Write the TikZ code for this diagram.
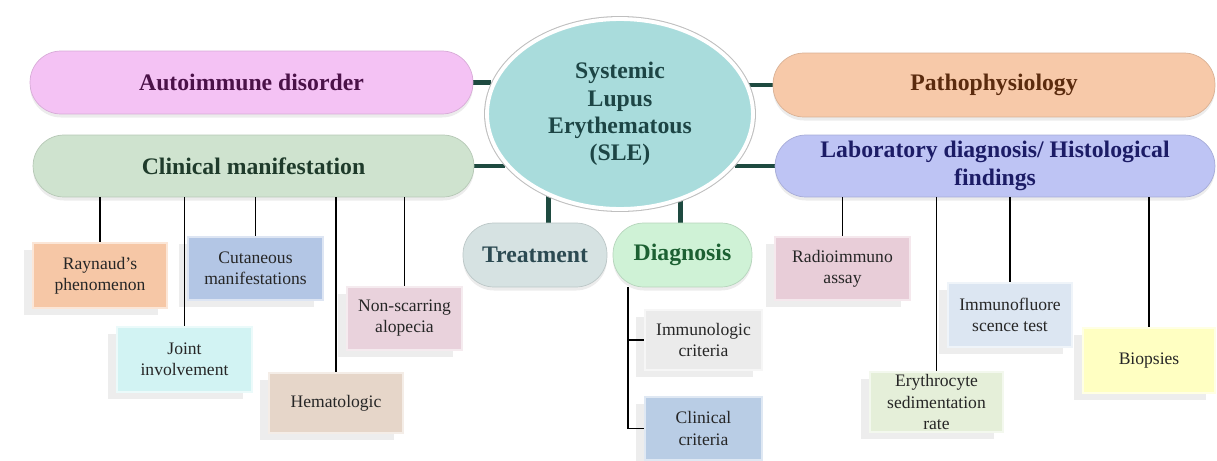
\documentclass[tikz,border=0pt]{standalone}
\usepackage{fontspec}
\setmainfont{Liberation Serif}
\usepackage{xcolor}
\usepackage{tikz}
\usetikzlibrary{shapes.geometric}
\usetikzlibrary{shadows}
\usetikzlibrary{backgrounds}
\definecolor{autofill}{HTML}{F4C2F4}
\definecolor{autotext}{HTML}{4A1248}
\definecolor{clinfill}{HTML}{CFE3CF}
\definecolor{clintext}{HTML}{1F3B2B}
\definecolor{slefill}{HTML}{A9DCDC}
\definecolor{sletext}{HTML}{1D4545}
\definecolor{pathofill}{HTML}{F7C9A9}
\definecolor{pathotext}{HTML}{5B2B0E}
\definecolor{labfill}{HTML}{BEC4F4}
\definecolor{labtext}{HTML}{1C1C66}
\definecolor{treatfill}{HTML}{D6E2E2}
\definecolor{treattext}{HTML}{2C4A52}
\definecolor{diagfill}{HTML}{CFF2D6}
\definecolor{diagtext}{HTML}{1C6032}
\definecolor{hubgreen}{HTML}{1E4A40}
\definecolor{raynaudfill}{HTML}{F6C7A6}
\definecolor{cutanfill}{HTML}{B3C6E5}
\definecolor{jointfill}{HTML}{D2F3F3}
\definecolor{hematofill}{HTML}{E6D6C9}
\definecolor{alopfill}{HTML}{E9D2DC}
\definecolor{immunofill}{HTML}{EBEBEB}
\definecolor{critfill}{HTML}{B9CDE5}
\definecolor{radiofill}{HTML}{E8CDD8}
\definecolor{erythfill}{HTML}{E5EFD9}
\definecolor{fluorfill}{HTML}{DCE6F2}
\definecolor{biopfill}{HTML}{FFFFC2}
\tikzset{
	pill/.style={rectangle, rounded corners=0.62cm, fill=#1, draw=#1!88!black, line width=0.4pt,
		align=center, inner sep=1pt, font=\fontsize{13.5}{15.5}\selectfont\bfseries,
		drop shadow={shadow xshift=0pt, shadow yshift=-2pt, opacity=0.15}},
	leaf/.style={rectangle, fill=#1, draw=white!55!#1, line width=1.2pt, align=center,
		inner sep=1pt, text=black!85, font=\fontsize{10}{12}\selectfont,
		drop shadow={shadow xshift=-5pt, shadow yshift=-4pt, opacity=0.14}},
	hub/.style={line width=2.8pt, color=hubgreen},
	twig/.style={line width=1pt, color=black},
}
\begin{document}
\begin{tikzpicture}[x=0.02cm, y=-0.02cm]
	\useasboundingbox (0,0) rectangle (1217,460);
	% centre and main branches
	\node[ellipse, fill=slefill, draw=white, line width=2.2pt, preaction={draw=black!25, line width=3.4pt},
		minimum width=5.32cm, minimum height=3.8cm, inner sep=0pt, align=center, text=sletext,
		font=\fontsize{13.5}{15.5}\selectfont\bfseries] (sle) at (620,114) {Systemic\\Lupus\\Erythematous\\(SLE)};
	\node[pill=autofill, text=autotext, minimum width=8.86cm, minimum height=1.26cm] (autoimm) at (251.5,82.5) {Autoimmune disorder};
	\node[pill=clinfill, text=clintext, minimum width=8.82cm, minimum height=1.24cm] (clinical) at (253.5,166) {Clinical manifestation};
	\node[pill=pathofill, text=pathotext, minimum width=8.84cm, minimum height=1.28cm] (patho) at (994,85) {Pathophysiology};
	\node[pill=labfill, text=labtext, minimum width=8.8cm, minimum height=1.24cm] (lab) at (995,166) {Laboratory diagnosis/ Histological\\findings};
	\node[pill=treatfill, text=treattext, minimum width=2.88cm, minimum height=1.28cm] (treatment) at (535,255) {Treatment};
	\node[pill=diagfill, text=diagtext, minimum width=2.78cm, minimum height=1.28cm] (diagnosis) at (682.5,255) {Diagnosis};
	% clinical manifestation leaves
	\node[leaf=raynaudfill, minimum width=2.68cm, minimum height=1.3cm] (raynaud) at (100,275.5) {Raynaud's\\phenomenon};
	\node[leaf=cutanfill, minimum width=2.7cm, minimum height=1.26cm] (cutaneous) at (255.5,268.5) {Cutaneous\\manifestations};
	\node[leaf=jointfill, minimum width=2.7cm, minimum height=1.3cm] (joint) at (184.5,359.5) {Joint\\involvement};
	\node[leaf=hematofill, minimum width=2.68cm, minimum height=1.2cm] (hemato) at (336,403) {Hematologic};
	\node[leaf=alopfill, minimum width=2.3cm, minimum height=1.26cm] (alopecia) at (404.5,318.5) {Non-scarring\\alopecia};
	% diagnosis leaves
	\node[leaf=immunofill, minimum width=2.34cm, minimum height=1.2cm] (immuno) at (703.5,340) {Immunologic\\criteria};
	\node[leaf=critfill, minimum width=2.34cm, minimum height=1.26cm] (clincrit) at (703.5,428.5) {Clinical\\criteria};
	% laboratory leaves
	\node[leaf=radiofill, minimum width=2.7cm, minimum height=1.26cm] (radio) at (842.5,268.5) {Radioimmuno\\assay};
	\node[leaf=erythfill, minimum width=2.66cm, minimum height=1.2cm] (erythro) at (936.5,402) {Erythrocyte\\sedimentation\\rate};
	\node[leaf=fluorfill, minimum width=2.48cm, minimum height=1.28cm] (immunofl) at (1010,315) {Immunofluore\\scence test};
	\node[leaf=biopfill, minimum width=2.64cm, minimum height=1.3cm] (biopsies) at (1149,360.5) {Biopsies};
	\begin{scope}[on background layer]
		\draw[hub] (autoimm.east) -- (autoimm.east -| sle.168);
		\draw[hub] (clinical.east) -- (clinical.east -| sle.204);
		\draw[hub] (patho.west) -- (patho.west -| sle.12);
		\draw[hub] (lab.west) -- (lab.west -| sle.-24);
		\draw[hub] (sle.229) -- (sle.229 |- treatment.north);
		\draw[hub] (sle.-55) -- (sle.-55 |- diagnosis.north);
	\end{scope}
	\foreach \leafname in {raynaud, cutaneous, joint, hemato, alopecia}
		\draw[twig] (\leafname.north) -- (\leafname.north |- clinical.south);
	\foreach \leafname in {radio, erythro, immunofl, biopsies}
		\draw[twig] (\leafname.north) -- (\leafname.north |- lab.south);
	\draw[twig] ([xshift=0.3cm]diagnosis.south west) |- (immuno.west);
	\draw[twig] ([xshift=0.3cm]diagnosis.south west) |- (clincrit.west);
\end{tikzpicture}
\end{document}
